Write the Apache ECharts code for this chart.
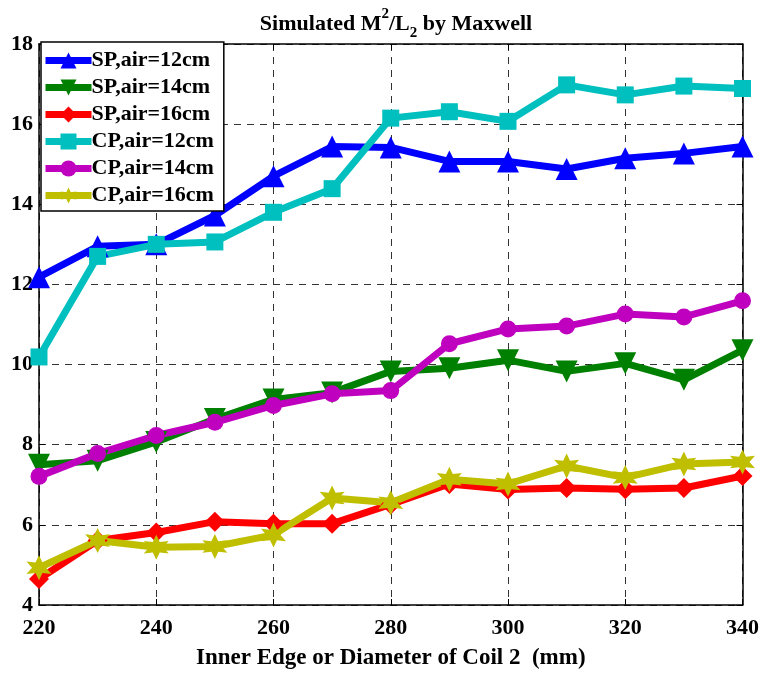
<!DOCTYPE html>
<html>
<head>
<meta charset="utf-8">
<script src="https://cdn.jsdelivr.net/npm/echarts@6/dist/echarts.min.js"></script>
<style>
  html, body { margin: 0; padding: 0; background: #fff; }
  #chart { width: 762px; height: 675px; }
</style>
</head>
<body>
<div id="chart"></div>
<script>
const xs = [220, 230, 240, 250, 260, 270, 280, 290, 300, 310, 320, 330, 340]
const seriesNames = ['SP,air=12cm', 'SP,air=14cm', 'SP,air=16cm', 'CP,air=12cm', 'CP,air=14cm', 'CP,air=16cm']
const sp12 = [12.18, 12.95, 13.0, 13.72, 14.7, 15.44, 15.42, 15.07, 15.07, 14.88, 15.15, 15.27, 15.44]
const sp14 = [7.5, 7.6, 8.07, 8.64, 9.13, 9.3, 9.83, 9.91, 10.11, 9.83, 10.03, 9.62, 10.36]
const sp16 = [4.65, 5.61, 5.81, 6.08, 6.03, 6.03, 6.51, 7.02, 6.88, 6.92, 6.89, 6.92, 7.22]
const cp12 = [10.19, 12.7, 13.0, 13.06, 13.8, 14.39, 16.15, 16.31, 16.07, 16.98, 16.73, 16.95, 16.89]
const cp14 = [7.21, 7.78, 8.23, 8.56, 8.98, 9.27, 9.35, 10.52, 10.89, 10.96, 11.26, 11.19, 11.59]
const cp16 = [4.93, 5.61, 5.44, 5.46, 5.75, 6.67, 6.55, 7.14, 7.02, 7.47, 7.18, 7.52, 7.57]

const font = 'Liberation Serif'
// six-point star like matlab's hexagram
const star = 'path://M50,0 L62,29 L93,25 L74,50 L93,75 L62,71 L50,100 L38,71 L7,75 L26,50 L7,25 L38,29 Z'

const styles = [
  { data: sp12, color: '#0000ff', symbol: 'triangle', size: 22, rotate: 0 },
  { data: sp14, color: '#008000', symbol: 'triangle', size: 22, rotate: 180 },
  { data: sp16, color: '#ff0000', symbol: 'diamond', size: 20, rotate: 0 },
  { data: cp12, color: '#00bfbf', symbol: 'rect', size: 17, rotate: 0 },
  { data: cp14, color: '#bf00bf', symbol: 'circle', size: 17, rotate: 0 },
  { data: cp16, color: '#bfbf00', symbol: star, size: 25, rotate: 0 },
]

let series = styles.map((s, i) => ({
  name: seriesNames[i],
  type: 'line',
  data: xs.map((x, j) => [x, s.data[j]]),
  symbol: s.symbol,
  symbolSize: s.size,
  symbolRotate: s.rotate,
  showSymbol: true,
  color: s.color,
  lineStyle: { width: 7, color: s.color },
  itemStyle: { color: s.color, borderWidth: 0 },
  emphasis: { disabled: true },
  animation: false,
}))

const gridLine = { show: true, lineStyle: { color: '#333', type: [7, 6], width: 1 } }
const axisLine = { show: true, lineStyle: { color: '#000', width: 1.5 } }
const labelStyle = { fontFamily: font, fontWeight: 'bold', fontSize: 22, color: '#000' }

const option = {
  backgroundColor: '#fff',
  animation: false,
  title: {
    left: 391,
    textAlign: 'center',
    top: 2,
    text: '{a|Simulated M}{sup|2}{a|/L}{sub|2}{a| by Maxwell}',
    textStyle: {
      rich: {
        a: { fontFamily: font, fontWeight: 'bold', fontSize: 22, color: '#000', lineHeight: 34, verticalAlign: 'middle' },
        sup: { fontFamily: font, fontWeight: 'bold', fontSize: 15, color: '#000', verticalAlign: 'top', lineHeight: 34, padding: [0, 0, 16, 0] },
        sub: { fontFamily: font, fontWeight: 'bold', fontSize: 15, color: '#000', verticalAlign: 'bottom', lineHeight: 34, padding: [14, 0, 0, 0] },
      },
    },
  },
  grid: { left: 39, right: 19, top: 44, bottom: 61 },
  legend: {
    show: true,
    orient: 'vertical',
    left: 41,
    top: 42,
    itemWidth: 46,
    itemHeight: 20,
    itemGap: 4,
    padding: [7, 10, 4, 1],
    backgroundColor: '#fff',
    borderColor: '#000',
    borderWidth: 1.5,
    borderRadius: 0,
    lineStyle: { width: 7 },
    textStyle: { fontFamily: font, fontWeight: 'bold', fontSize: 22, lineHeight: 20, color: '#000', padding: [3, 0, 0, -5] },
    data: seriesNames,
  },
  xAxis: [
    {
      type: 'value',
      min: 220,
      max: 340,
      interval: 20,
      name: 'Inner Edge or Diameter of Coil 2  (mm)',
      nameLocation: 'middle',
      nameGap: 42,
      nameTextStyle: { fontFamily: font, fontWeight: 'bold', fontSize: 23, color: '#000' },
      axisLine: axisLine,
      axisTick: { show: true, inside: true, length: 6, lineStyle: { color: '#000' } },
      axisLabel: Object.assign({ margin: 12 }, labelStyle),
      splitLine: gridLine,
    },
    {
      type: 'value',
      position: 'top',
      min: 220,
      max: 340,
      interval: 20,
      axisLine: axisLine,
      axisTick: { show: true, inside: true, length: 6, lineStyle: { color: '#000' } },
      axisLabel: { show: false },
      splitLine: { show: false },
    },
  ],
  yAxis: [
    {
      type: 'value',
      min: 4,
      max: 18,
      interval: 2,
      axisLine: axisLine,
      axisTick: { show: true, inside: true, length: 6, lineStyle: { color: '#000' } },
      axisLabel: Object.assign({ margin: 6 }, labelStyle),
      splitLine: gridLine,
    },
    {
      type: 'value',
      position: 'right',
      min: 4,
      max: 18,
      interval: 2,
      axisLine: axisLine,
      axisTick: { show: true, inside: true, length: 6, lineStyle: { color: '#000' } },
      axisLabel: { show: false },
      splitLine: { show: false },
    },
  ],
  series: series,
}

const myChart = echarts.init(document.getElementById('chart'))
myChart.setOption(option)
</script>
</body>
</html>
